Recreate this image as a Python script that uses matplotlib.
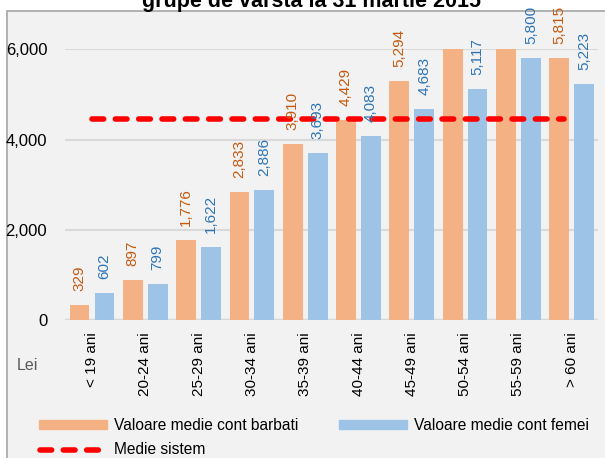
import matplotlib
matplotlib.use('Agg')
import matplotlib.pyplot as plt
from matplotlib.patches import Rectangle
from matplotlib.lines import Line2D
import numpy as np

plt.rcParams['font.family'] = ['Liberation Sans', 'DejaVu Sans']

# data
grupe = ['< 19 ani', '20-24 ani', '25-29 ani', '30-34 ani', '35-39 ani',
         '40-44 ani', '45-49 ani', '50-54 ani', '55-59 ani', '> 60 ani']
barbati = [329, 897, 1776, 2833, 3910, 4429, 5294, 6056, 6271, 5815]
femei = [602, 799, 1622, 2886, 3693, 4083, 4683, 5117, 5800, 5223]
medie_sistem = 4445
y_ticks = [0, 2000, 4000, 6000]
y_max = 6000

c_orange = '#f4b183'
c_blue = '#9dc3e6'
c_orange_txt = '#c55a11'
c_blue_txt = '#2e75b6'
bg = '#f2f2f2'

fig = plt.figure(figsize=(6.05, 4.58), dpi=100)
fig.patch.set_facecolor('white')

# chart area background with border
fig.add_artist(Rectangle((7 / 605, -0.01), 1.0, 1 - 11 / 458 + 0.01,
                         transform=fig.transFigure, facecolor=bg,
                         edgecolor='#a6a6a6', lw=1.2, zorder=0))

fig.text(0.515, 1 - 7 / 458, 'grupe de varsta la 31 martie 2015',
         ha='center', va='baseline', fontsize=15.5, fontweight='bold')

ax = fig.add_axes([65.3 / 605, 1 - 320 / 458, 533.1 / 605, 270.7 / 458])
ax.set_facecolor('none')

x = np.arange(len(grupe))
w = 0.37
off = 0.234
b1 = ax.bar(x - off, barbati, w, color=c_orange, zorder=2)
b2 = ax.bar(x + off, femei, w, color=c_blue, zorder=2)

ax.bar_label(b1, labels=[f'{v:,}' if v <= y_max else '' for v in barbati],
             rotation=90, padding=10, color=c_orange_txt, fontsize=11,
             clip_on=False, zorder=4)
ax.bar_label(b2, labels=[f'{v:,}' if v <= y_max else '' for v in femei],
             rotation=90, padding=10, color=c_blue_txt, fontsize=11,
             clip_on=False, zorder=4)

ax.hlines(medie_sistem, x[0], x[-1] - 0.15, colors='red', lw=4,
          linestyles=(0, (2.1, 2.1)), zorder=3, capstyle='round')

ax.set_xlim(-0.5, len(grupe) - 0.5)
ax.set_ylim(0, y_max)
ax.set_yticks(y_ticks)
ax.set_yticklabels([f'{v:,}' for v in y_ticks], fontsize=12)
ax.tick_params(axis='y', length=0, pad=13)
ax.set_xticks(x)
ax.set_xticklabels(grupe, rotation=90, fontsize=11)
ax.tick_params(axis='x', length=0, pad=9)

for s in ax.spines.values():
    s.set_visible(False)
ax.grid(axis='y', color='#d9d9d9', lw=1.5, zorder=1)
ax.axhline(0, color='#d9d9d9', lw=2.5, zorder=1)
ax.set_axisbelow(True)

fig.text(27 / 605, 1 - 365 / 458, 'Lei', ha='center', va='center',
         fontsize=11.5, color='#595959')

# legend
fig.add_artist(Rectangle((39 / 605, 1 - 429 / 458), 68 / 605, 9 / 458,
                         transform=fig.transFigure, color=c_orange))
fig.text(114 / 605, 1 - 425 / 458, 'Valoare medie cont barbati',
         va='center', fontsize=11.2)
fig.add_artist(Rectangle((339 / 605, 1 - 429 / 458), 68 / 605, 9 / 458,
                         transform=fig.transFigure, color=c_blue))
fig.text(414 / 605, 1 - 425 / 458, 'Valoare medie cont femei',
         va='center', fontsize=11.2)
fig.add_artist(Line2D([40 / 605, 99 / 605], [1 - 450 / 458] * 2,
                      transform=fig.transFigure, color='red', lw=4,
                      linestyle=(0, (2.1, 2.1)), dash_capstyle='round'))
fig.text(114 / 605, 1 - 450 / 458, 'Medie sistem', va='center', fontsize=11.2)

fig.savefig('out.png', dpi=100, facecolor=fig.get_facecolor())
